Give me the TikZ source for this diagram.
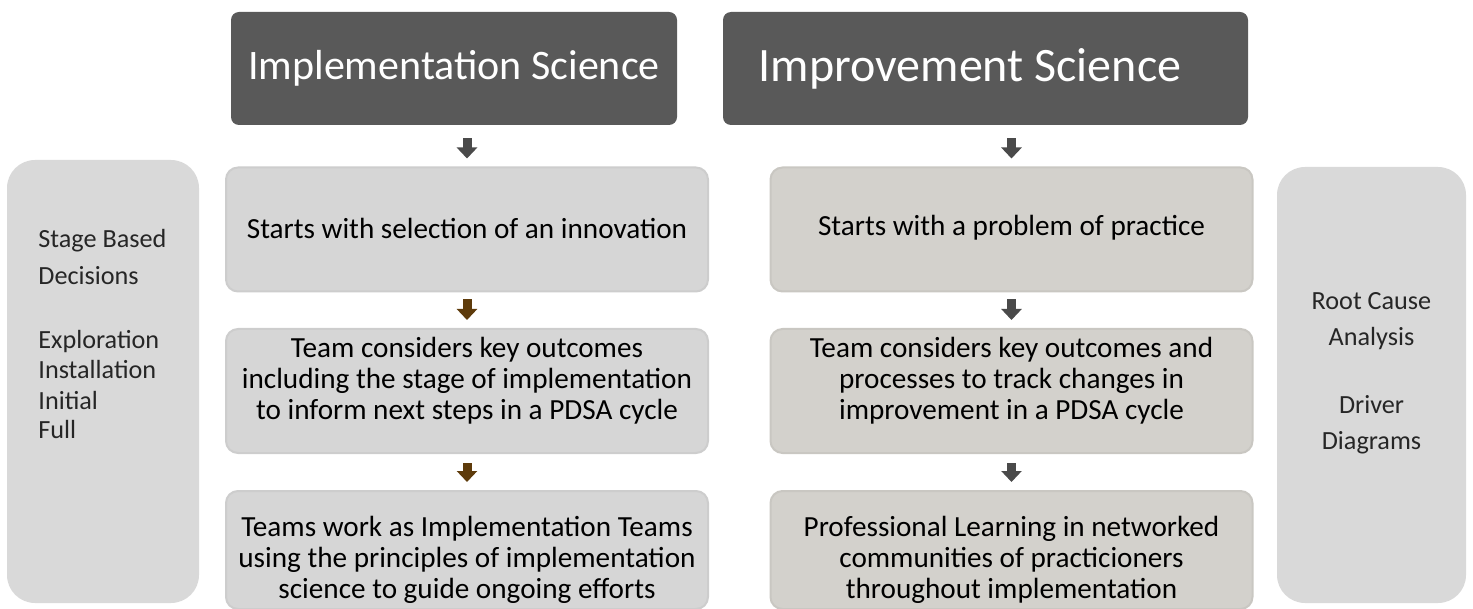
\documentclass[tikz,border=0pt]{standalone}
\usepackage{fontspec}
\setmainfont{Carlito}
\usetikzlibrary{arrows.meta}
\definecolor{hdr}{HTML}{595959}
\definecolor{boxL}{HTML}{D6D6D6}
\definecolor{boxLline}{HTML}{CDCDCD}
\definecolor{boxR}{HTML}{D3D1CC}
\definecolor{boxRline}{HTML}{C9C7C2}
\definecolor{side}{HTML}{D9D9D9}
\definecolor{arrG}{HTML}{4A4A4A}
\definecolor{arrB}{HTML}{5E3B0B}
\begin{document}
\begin{tikzpicture}[x=0.5pt,y=-0.5pt,
  header/.style={fill=hdr, rounded corners=4pt, text=white, inner sep=0pt,
    font=\fontsize{21}{25}\selectfont, minimum height=56.5pt},
  colbox/.style={line width=1pt, rounded corners=6pt, inner sep=0pt,
    minimum width=241pt, minimum height=62pt},
  colL/.style={colbox, fill=boxL, draw=boxLline},
  colR/.style={colbox, fill=boxR, draw=boxRline},
  body/.style={font=\fontsize{14.6}{15.5}\selectfont, align=center, inner sep=0pt},
  sidebox/.style={fill=side, rounded corners=14pt, inner sep=0pt},
  sidetxt/.style={font=\fontsize{13.1}{15}\selectfont, text=black!85, inner sep=0pt},
  flow/.style={line width=4.5pt, -{Triangle[width=10pt,length=5.5pt]}}]
\useasboundingbox (0,0) rectangle (1473,609);

% side panels
\node[sidebox, minimum width=96pt, minimum height=221.5pt] (sL) at (103,381.5) {};
\node[sidebox, minimum width=94.5pt, minimum height=218pt] (sR) at (1371.5,385) {};

% headers
\node[header, minimum width=223pt] (hL) at (454,68.5) {Implementation Science};
\node[header, minimum width=262.5pt] (hR) at (985.5,68.5) {};
\node[text=white, inner sep=0pt, font=\fontsize{24}{28}\selectfont] (hRt) at (970,68.5) {Improvement Science};

% column boxes
\node[colL] (L1) at (467,229.5) {};
\node[colL] (L2) at (467,391) {};
\node[colL, minimum height=59pt] (L3) at (467,550) {};
\node[colR] (R1) at (1011.5,229.5) {};
\node[colR] (R2) at (1011.5,391) {};
\node[colR, minimum height=59pt] (R3) at (1011.5,550) {};

% box texts
\node[body] (L1t) at (467,228) {Starts with selection of an innovation};
\node[body] (L2t) at (467,381) {Team considers key outcomes\\including the stage of implementation\\to inform next steps in a PDSA cycle};
\node[body] (L3t) at (467,560) {Teams work as Implementation Teams\\using the principles of implementation\\science to guide ongoing efforts};
\node[body] (R1t) at (1011.5,228) {Starts with a problem of practice};
\node[body] (R2t) at (1011.5,381) {Team considers key outcomes and\\processes to track changes in\\improvement in a PDSA cycle};
\node[body] (R3t) at (1011.5,560) {Professional Learning in networked\\communities of practicioners\\throughout implementation};

% side texts
\node[sidetxt, anchor=base west] (s1) at (38,248) {Stage Based};
\node[sidetxt, anchor=base west] (s2) at (38,285) {Decisions};
\node[sidetxt, anchor=base west] (s3) at (38,349) {Exploration};
\node[sidetxt, anchor=base west] (s4) at (38,379) {Installation};
\node[sidetxt, anchor=base west] (s5) at (38,409) {Initial};
\node[sidetxt, anchor=base west] (s6) at (38,438) {Full};
\node[sidetxt, anchor=base] (r1) at (1371.5,310) {Root Cause};
\node[sidetxt, anchor=base] (r2) at (1371.5,345) {Analysis};
\node[sidetxt, anchor=base] (r3) at (1371.5,414) {Driver};
\node[sidetxt, anchor=base] (r4) at (1371.5,449) {Diagrams};

% flow arrows
\draw[flow, arrG, shorten <=6.5pt, shorten >=4pt] (L1.north |- hL.south) -- (L1.north);
\draw[flow, arrB, shorten <=3.5pt, shorten >=4pt] (L1.south) -- (L2.north);
\draw[flow, arrB, shorten <=4.5pt, shorten >=4pt] (L2.south) -- (L3.north);
\draw[flow, arrG, shorten <=6.5pt, shorten >=4pt] (R1.north |- hR.south) -- (R1.north);
\draw[flow, arrG, shorten <=3.5pt, shorten >=4pt] (R1.south) -- (R2.north);
\draw[flow, arrG, shorten <=4.5pt, shorten >=4pt] (R2.south) -- (R3.north);
\end{tikzpicture}
\end{document}
